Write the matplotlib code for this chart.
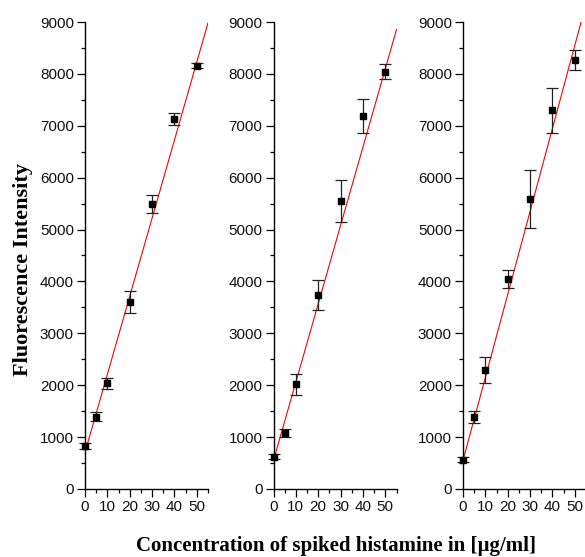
"""Fluorescence intensity vs spiked histamine concentration, three replicate panels."""

import matplotlib

matplotlib.use("Agg")
import matplotlib.pyplot as plt
import numpy as np
from matplotlib.ticker import MultipleLocator

# concentrations of spiked histamine [ug/ml]
conc = [0, 5, 10, 20, 30, 40, 50]

# mean fluorescence intensity and error per panel
intensity_1 = [830, 1391, 2038, 3603, 5487, 7128, 8160]
error_1 = [60, 87, 103, 212, 170, 115, 42]
intensity_2 = [626, 1077, 2019, 3747, 5545, 7186, 8045]
error_2 = [50, 70, 205, 290, 407, 327, 148]
intensity_3 = [561, 1387, 2296, 4051, 5596, 7295, 8269]
error_3 = [50, 113, 245, 171, 561, 430, 186]

# linear calibration fits
fit_intercept = [705, 550, 550]
fit_slope = [150.5, 151.0, 160.0]

x_ticks = [0, 10, 20, 30, 40, 50]
y_ticks = [0, 1000, 2000, 3000, 4000, 5000, 6000, 7000, 8000, 9000]

W, H = 585, 557
fig = plt.figure(figsize=(W / 100, H / 100), dpi=100)

panel_left = [85, 273.5, 463]
ax_w, ax_bottom, ax_h = 123, 68, 467

series = [
    (intensity_1, error_1),
    (intensity_2, error_2),
    (intensity_3, error_3),
]

for i, (vals, errs) in enumerate(series):
    ax = fig.add_axes([panel_left[i] / W, ax_bottom / H, ax_w / W, ax_h / H])
    ax.set_xlim(0, 55)
    ax.set_ylim(0, 9000)

    x_fit = np.array(ax.get_xlim())
    ax.plot(x_fit, fit_intercept[i] + fit_slope[i] * x_fit,
            color="red", linewidth=0.8, zorder=2, clip_on=True)

    ax.errorbar(conc, vals, yerr=errs, fmt="s", color="black",
                ecolor="#222222", elinewidth=0.9, capsize=4.5, capthick=0.9,
                markersize=4.5, zorder=3, clip_on=False)

    for side in ("top", "right"):
        ax.spines[side].set_visible(False)
    for side in ("left", "bottom"):
        ax.spines[side].set_linewidth(1.0)

    ax.set_xticks(x_ticks)
    ax.set_yticks(y_ticks)
    ax.xaxis.set_minor_locator(MultipleLocator(5))
    ax.yaxis.set_minor_locator(MultipleLocator(500))
    ax.tick_params(which="major", direction="out", length=5.5, width=0.9,
                   pad=2.5, labelsize=11, labelcolor="#111111")
    ax.tick_params(which="minor", direction="out", length=3, width=0.9)
    for lbl in ax.get_xticklabels() + ax.get_yticklabels():
        lbl.set_family("Liberation Sans")

fig.text(23 / W, 1 - 270 / H, "Fluorescence Intensity", rotation=90,
         ha="center", va="center", family="Liberation Serif",
         fontweight="bold", fontsize=16)
fig.text(336 / W, 1 - 551 / H, "Concentration of spiked histamine in [µg/ml]",
         ha="center", va="baseline", family="Liberation Serif",
         fontweight="bold", fontsize=15)

fig.savefig("out.png", dpi=100)
plt.close(fig)
